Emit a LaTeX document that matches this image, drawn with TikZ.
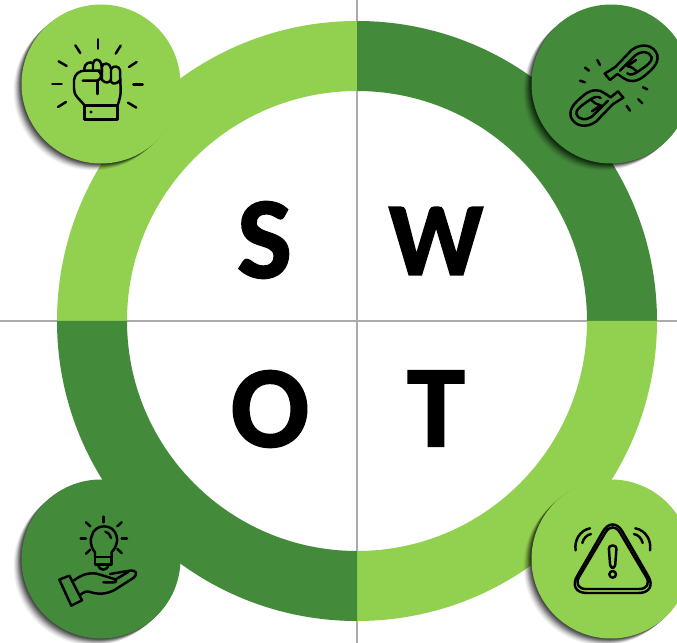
\documentclass[tikz,border=0pt]{standalone}
\usepackage{fontspec}
\setmainfont{Carlito}[BoldFeatures={FakeBold=1.6}]
\definecolor{swotlight}{HTML}{92D050}
\definecolor{swotdark}{HTML}{438A3A}
\definecolor{swotgrid}{HTML}{ABABAB}
\tikzset{
  letter/.style={font=\fontsize{66}{70}\selectfont\bfseries,inner sep=0pt},
  gridline/.style={swotgrid,line width=0.6pt},
  icon/.style={line width=1.4pt,line cap=round,line join=round},
  zoomed/.style={x=0.02cm/3,y=-0.02cm/3},
}
\newcommand{\badge}[2]{
  \foreach \k/\o in {10/0.04,9/0.05,8/0.06,7/0.08,6/0.10,5/0.12,4/0.14,3/0.16,2/0.18,1/0.20}{
    \fill[black,opacity=\o] (#1)++(-0.8*\k,-0.7*\k) circle (79.5);
  }
  \fill[#2] (#1) circle (79.5);
}
\newcommand{\chainlink}{
  (284,221) -- (316,201) -- (365,150) .. controls (395,127) and (432,135) .. (442,165)
    .. controls (447,192) and (425,210) .. (398,232) .. controls (378,246) and (355,247) .. (340,234)
    -- (322,222) -- (300,240) -- cycle
  (330,212) -- (375,167) .. controls (395,150) and (420,155) .. (425,172)
    .. controls (428,185) and (410,197) .. (385,214) .. controls (372,224) and (360,226) .. (352,220)
  (352,198) -- (378,180) (352,198) .. controls (362,200) and (372,205) .. (378,212)
}
\begin{document}
\begin{tikzpicture}[x=0.02cm,y=0.02cm]
  \useasboundingbox (0,0) rectangle (677,643);
  \clip (0,0) rectangle (677,643);
  \fill[white] (0,0) rectangle (677,643);
  \draw[gridline] (357,0) -- (357,643);
  \draw[gridline] (0,322) -- (677,322);
  \fill[swotlight] (57,322) arc (180:90:300) -- (357,552) arc (90:180:230) -- cycle;
  \fill[swotdark] (357,622) arc (90:0:300) -- (587,322) arc (0:90:230) -- cycle;
  \fill[swotlight] (657,322) arc (0:-90:300) -- (357,92) arc (-90:0:230) -- cycle;
  \fill[swotdark] (357,22) arc (-90:-180:300) -- (127,322) arc (180:270:230) -- cycle;
  \draw[gridline] (357,133) -- (357,511);
  \draw[gridline] (178,322) -- (533,322);
  \node[letter] (s) at (264.5,403) {S};
  \node[letter,scale=0.9,transform shape] (w) at (436,402) {W};
  \node[letter] (o) at (270,234) {O};
  \node[letter] (t) at (436,234.5) {T};
  \badge{101,559}{swotlight}
  \badge{611,559}{swotdark}
  \badge{101,84}{swotdark}
  \badge{611,84}{swotlight}
  \begin{scope}[shift={(0,643)},zoomed,icon]
    \foreach \a/\b/\c/\d in {294/118/294/146,226/136/241/159,362/137/347/161,176/184/200/198,410/186/387/201,157/252/185/252,400/254/428/254,174/321/198/306,409/323/384/308}{
      \draw (\a,\b) -- (\c,\d);
    }
    \draw (254,316) rectangle (353,358);
    \fill (273,336) circle (5);
    \draw (254,316) -- (232,292) .. controls (224,282) and (222,275) .. (222,265) -- (222,240)
      .. controls (224,222) and (238,213) .. (252,212) -- (300,212);
    \draw (353,316) .. controls (360,295) and (362,285) .. (362,270) -- (360,210)
      .. controls (358,198) and (338,195) .. (333,208) -- (333,245) .. controls (338,255) and (355,250) .. (360,240);
    \draw (306,240) -- (306,200) .. controls (308,187) and (330,187) .. (333,205);
    \draw (306,215) -- (304,192) .. controls (300,175) and (282,175) .. (279,190) -- (279,212);
    \draw (279,190) .. controls (270,183) and (254,190) .. (253,205) -- (253,212);
    \draw (248,242) -- (290,242) .. controls (305,240) and (308,222) .. (295,212);
    \draw (292,242) -- (292,282);
    \draw (306,240) .. controls (316,250) and (326,250) .. (333,240);
  \end{scope}
  \begin{scope}[shift={(510,643)},zoomed,icon]
    \draw \chainlink;
    \begin{scope}[shift={(624,514)},xscale=-1,yscale=-1]
      \draw \chainlink;
    \end{scope}
    \foreach \a/\b/\c/\d in {225/203/237/212,262/180/270/195,210/242/225/247,399/262/412/268,385/298/397/310,350/318/360/332}{
      \draw (\a,\b) -- (\c,\d);
    }
  \end{scope}
  \begin{scope}[shift={(0,180)},zoomed,icon]
    \foreach \a/\b/\c/\d in {311/161/311/178,258/178/271/190,365/178/352/190,242/226/258/226,365/226/381/226,258/272/271/260,365/270/352/258}{
      \draw (\a,\b) -- (\c,\d);
    }
    \draw (285,282) -- (285,268) .. controls (270,250) and (270,228) .. (275,220)
      .. controls (282,180) and (342,180) .. (350,220) .. controls (354,232) and (350,252) .. (335,268) -- (335,282);
    \draw (285,282) -- (335,282) -- (335,305) -- (285,305) -- cycle;
    \draw (295,305) .. controls (297,325) and (323,325) .. (325,305);
    \draw (316,206) .. controls (325,208) and (331,216) .. (333,225);
    \draw (178,350) -- (208,338) -- (246,412) -- (214,428) -- cycle;
    \draw (222,352) .. controls (245,335) and (265,328) .. (290,332) -- (340,347)
      .. controls (352,352) and (350,358) .. (342,358) -- (310,358);
    \draw (330,333) -- (390,323) .. controls (408,320) and (415,332) .. (400,345)
      -- (345,380) .. controls (320,394) and (295,395) .. (270,387) .. controls (258,383) and (250,388) .. (242,395);
    \draw (345,350) .. controls (360,342) and (370,335) .. (385,327);
  \end{scope}
  \begin{scope}[shift={(510,180)},zoomed,icon]
    \draw[rounded corners=11pt] (308,155) -- (172,390) -- (444,390) -- cycle;
    \draw[rounded corners=8pt] (308,172) -- (186,378) -- (430,378) -- cycle;
    \draw[rounded corners=1.8pt] (296,248) -- (320,248) -- (315,315) -- (301,315) -- cycle;
    \draw (308,334) circle (10);
    \draw (197,262) .. controls (192,232) and (210,202) .. (240,196);
    \draw (217,240) .. controls (220,226) and (230,216) .. (243,213);
    \draw (420,262) .. controls (425,232) and (407,202) .. (376,196);
    \draw (398,240) .. controls (395,226) and (385,216) .. (372,213);
  \end{scope}
\end{tikzpicture}
\end{document}
